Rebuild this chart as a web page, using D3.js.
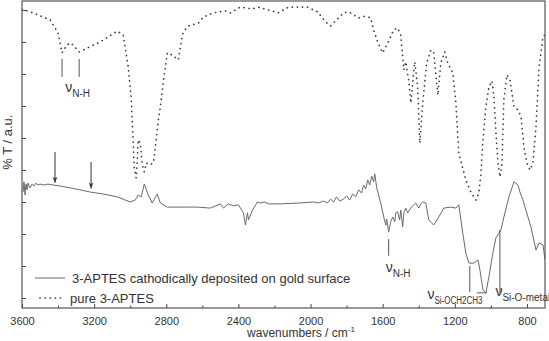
<!DOCTYPE html>
<html>
<head>
<meta charset="utf-8">
<script src="https://cdn.jsdelivr.net/npm/d3@7"></script>
<style>
  body { margin: 0; background: #fff; }
  svg { display: block; font-family: "Liberation Sans", Arial, sans-serif; }
</style>
</head>
<body>
<div id="chart"></div>
<script>
// Spectra: [wavenumber (cm-1), %T (a.u.)]
const pureSpectrum = [
  [3600,90.3],[3539,89.1],[3444,86.9],[3400,82.8],[3378,76.6],[3350,79.1],[3328,79.7],[3283,76.9],
  [3239,78.1],[3167,80.0],[3072,83.4],[3039,82.2],[3011,72.2],[2994,61.9],[2983,48.4],[2978,40.9],
  [2967,37.5],[2961,42.2],[2956,49.4],[2944,48.4],[2939,45.3],[2933,41.6],[2922,39.4],[2911,42.2],
  [2889,41.6],[2872,42.2],[2867,44.1],[2856,49.4],[2844,55.6],[2833,59.7],[2817,67.2],[2794,76.6],
  [2767,75.9],[2733,74.4],[2722,78.4],[2706,83.1],[2678,85.0],[2622,85.9],[2594,87.8],[2539,89.1],
  [2472,89.7],[2444,89.1],[2389,90.9],[2322,90.3],[2294,90.9],[2233,90.0],[2178,89.1],[2122,90.9],
  [2017,90.9],[1961,89.4],[1917,86.3],[1889,85.0],[1817,89.1],[1789,89.4],[1733,87.5],[1694,88.1],
  [1667,87.5],[1650,83.8],[1628,80.0],[1600,76.6],[1572,79.7],[1539,83.8],[1517,84.4],[1500,82.2],
  [1489,75.3],[1483,71.3],[1472,73.8],[1456,68.1],[1444,60.9],[1428,70.6],[1422,73.8],[1406,65.9],
  [1394,48.4],[1378,60.9],[1356,73.4],[1333,77.5],[1317,76.6],[1294,63.4],[1278,73.4],[1256,76.9],
  [1239,73.4],[1211,70.3],[1194,60.9],[1178,45.3],[1161,41.6],[1139,36.9],[1111,33.1],[1083,30.6],
  [1067,32.8],[1056,38.4],[1044,49.4],[1028,59.7],[1011,65.9],[994,67.8],[983,62.8],[972,51.6],
  [961,42.2],[950,37.8],[939,41.6],[928,61.9],[911,69.7],[894,68.1],[872,59.7],[850,58.8],
  [833,56.6],[817,47.2],[800,42.2],[783,40.0],[767,42.2],[750,53.4],[733,72.2],[711,81.6],[700,82.2]
];

const depositedSpectrum = [
  [3594,33.1],[3589,36.3],[3583,32.2],[3578,35.6],[3572,33.8],[3567,35.9],[3556,34.4],[3544,35.6],
  [3533,35.0],[3522,35.9],[3511,35.3],[3500,35.6],[3478,35.3],[3456,35.6],[3428,35.3],[3389,35.0],
  [3333,34.4],[3278,33.8],[3222,33.1],[3150,32.5],[3072,31.6],[3000,30.0],[2972,30.6],[2956,32.2],
  [2939,31.6],[2922,35.6],[2900,32.2],[2878,29.7],[2850,32.5],[2833,29.7],[2794,28.4],[2683,28.4],
  [2628,28.4],[2556,28.1],[2500,29.4],[2483,28.1],[2456,29.4],[2428,28.8],[2400,29.1],[2372,26.6],
  [2361,22.8],[2350,26.6],[2344,24.4],[2322,27.5],[2294,30.0],[2278,29.7],[2256,30.0],[2233,29.4],
  [2167,29.4],[2056,29.7],[1983,30.0],[1956,29.7],[1928,30.3],[1906,29.7],[1889,30.9],[1872,30.0],
  [1856,31.6],[1839,30.3],[1817,30.9],[1800,31.9],[1783,30.6],[1767,32.5],[1750,31.6],[1733,33.8],
  [1717,32.8],[1706,35.3],[1694,34.1],[1683,36.9],[1672,35.3],[1661,38.1],[1650,36.3],[1644,38.8],
  [1633,34.4],[1611,29.7],[1594,25.3],[1583,22.8],[1578,24.7],[1567,20.6],[1556,23.8],[1544,25.3],
  [1533,23.8],[1528,26.6],[1517,26.9],[1506,24.4],[1500,27.5],[1489,22.2],[1483,26.6],[1472,28.1],
  [1461,26.6],[1444,28.1],[1433,28.8],[1417,29.7],[1400,28.1],[1389,29.4],[1378,30.0],[1361,29.7],
  [1344,24.4],[1317,22.8],[1289,25.3],[1261,28.1],[1222,28.4],[1194,28.1],[1178,29.1],[1156,20.3],
  [1139,14.1],[1122,10.9],[1094,10.9],[1072,11.9],[1061,8.8],[1044,2.5],[1028,1.6],[1011,6.6],
  [989,14.1],[972,18.8],[944,21.3],[928,25.3],[900,31.6],[872,36.3],[850,35.3],[839,33.1],
  [822,30.6],[806,27.5],[778,22.2],[750,15.0],[733,17.2],[711,16.6],[700,11.9]
];

const xMajorTicks = [3600, 3200, 2800, 2400, 2000, 1600, 1200, 800];
const xMinorTicks = [3400, 3000, 2600, 2200, 1800, 1400, 1000];
const yTicks = [0, 10, 20, 30, 40, 50, 60, 70, 80, 90];
const seriesNames = ['3-APTES cathodically deposited on gold surface', 'pure 3-APTES'];

// Band assignments: marker lines and label anchor, in data units
const bandLabels = [
  { sub: 'N-H', lines: [[3378, 74.7, 3378, 69.1], [3283, 74.7, 3283, 69.1]], at: [3360, 64.3] },
  { sub: 'N-H', lines: [[1567, 18.4, 1567, 13.2]], at: [1583, 8.1] },
  { sub: 'Si-OCH2CH3', squeeze: 48, lines: [[1117, 10.0, 1117, 1.9], [1078, 1.6, 1022, 1.6]], at: [1352, -0.4] },
  { sub: 'Si-O-metal', lines: [[950, 21.3, 950, 1.6]], at: [975, 0.6] }
];
const arrowMarks = [
  [3417, 45.6, 3417, 36.0],
  [3217, 42.5, 3217, 34.2]
];

// Layout
const W = 549, H = 341;
const margin = { top: 1, right: 4, bottom: 33, left: 22 };
const innerW = W - margin.left - margin.right;
const innerH = H - margin.top - margin.bottom;

const svg = d3.select('#chart').append('svg')
  .attr('width', W)
  .attr('height', H);

const x = d3.scaleLinear().domain([3600, 700]).range([0, innerW]);
const y = d3.scaleLinear().domain([-3.125, 92.8]).range([innerH, 0]);

const chart = svg.append('g')
  .attr('transform', `translate(${margin.left},${margin.top})`);

const defs = svg.append('defs');
defs.append('clipPath').attr('id', 'plot-clip')
  .append('rect').attr('width', innerW).attr('height', innerH);
defs.append('marker')
  .attr('id', 'arrowhead')
  .attr('viewBox', '0 0 10 10')
  .attr('refX', 10).attr('refY', 5)
  .attr('markerWidth', 7).attr('markerHeight', 6)
  .attr('markerUnits', 'userSpaceOnUse')
  .attr('orient', 'auto')
  .append('path')
  .attr('d', 'M0,1 L10,5 L0,9 L3,5 Z')
  .attr('fill', '#333');

const line = d3.line()
  .x(d => x(d[0]))
  .y(d => y(d[1]));

const plot = chart.append('g').attr('clip-path', 'url(#plot-clip)');

plot.append('path')
  .datum(pureSpectrum)
  .attr('d', line)
  .attr('fill', 'none')
  .attr('stroke', '#3a3a3a')
  .attr('stroke-width', 1.7)
  .attr('stroke-linecap', 'round')
  .attr('stroke-dasharray', '0.1,5');

plot.append('path')
  .datum(depositedSpectrum)
  .attr('d', line)
  .attr('fill', 'none')
  .attr('stroke', '#6a6a6a')
  .attr('stroke-width', 1);

// Axes (ticks point inwards)
const xAxis = chart.append('g')
  .attr('class', 'axis')
  .attr('transform', `translate(0,${innerH})`)
  .call(d3.axisBottom(x).tickValues(xMajorTicks).tickSize(-4).tickPadding(9).tickFormat(d3.format('d')));

chart.append('g')
  .attr('transform', `translate(0,${innerH})`)
  .call(d3.axisBottom(x).tickValues(xMinorTicks).tickSize(-2.5).tickFormat(''))
  .call(g => g.select('.domain').remove());

chart.append('g')
  .call(d3.axisLeft(y).tickValues(yTicks).tickSize(-4).tickFormat(''))
  .call(g => g.select('.domain').remove());

xAxis.select('.domain').remove();
chart.selectAll('.tick line').attr('stroke', '#444');
xAxis.selectAll('.tick text')
  .attr('fill', '#333')
  .style('font-size', '11px');

chart.append('rect')
  .attr('width', innerW)
  .attr('height', innerH)
  .attr('fill', 'none')
  .attr('stroke', '#555')
  .attr('stroke-width', 1.2);

// Axis titles
const xTitle = svg.append('text')
  .attr('x', 301)
  .attr('y', 337)
  .attr('text-anchor', 'middle')
  .attr('fill', '#333')
  .style('font-size', '12px');
xTitle.append('tspan').text('wavenumbers / cm');
xTitle.append('tspan').attr('dy', -5).style('font-size', '8px').text('-1');

svg.append('text')
  .attr('transform', `translate(12,${margin.top + y(48.7)}) rotate(-90)`)
  .attr('text-anchor', 'middle')
  .attr('fill', '#333')
  .style('font-size', '13px')
  .text('% T / a.u.');

// Band markers
bandLabels.forEach(b => {
  b.lines.forEach(l => {
    chart.append('line')
      .attr('x1', x(l[0])).attr('y1', y(l[1]))
      .attr('x2', x(l[2])).attr('y2', y(l[3]))
      .attr('stroke', '#555')
      .attr('stroke-width', 1);
  });
  const t = chart.append('text')
    .attr('x', x(b.at[0]))
    .attr('y', y(b.at[1]))
    .attr('fill', '#333');
  t.append('tspan').style('font-size', '14px').text('ν');
  const s = t.append('tspan').attr('dy', 5).style('font-size', '10px').text(b.sub);
  if (b.squeeze) s.attr('textLength', b.squeeze).attr('lengthAdjust', 'spacingAndGlyphs');
});

arrowMarks.forEach(a => {
  chart.append('line')
    .attr('x1', x(a[0])).attr('y1', y(a[1]))
    .attr('x2', x(a[2])).attr('y2', y(a[3]))
    .attr('stroke', '#333')
    .attr('stroke-width', 1)
    .attr('marker-end', 'url(#arrowhead)');
});

// Legend
const legend = svg.append('g').attr('transform', 'translate(35,278)');
const legendItems = legend.selectAll('.legend-item')
  .data(seriesNames)
  .join('g')
  .attr('class', 'legend-item')
  .attr('transform', (d, i) => `translate(0,${i * 20})`);

legendItems.append('line')
  .attr('x1', (d, i) => i === 0 ? 0 : 5)
  .attr('x2', 30)
  .attr('stroke', (d, i) => i === 0 ? '#6a6a6a' : '#3a3a3a')
  .attr('stroke-width', (d, i) => i === 0 ? 1 : 1.7)
  .attr('stroke-linecap', (d, i) => i === 0 ? 'butt' : 'round')
  .attr('stroke-dasharray', (d, i) => i === 0 ? null : '0.1,5');

legendItems.append('text')
  .attr('x', (d, i) => i === 0 ? 37 : 35)
  .attr('y', 5)
  .attr('fill', '#333')
  .style('font-size', '13px')
  .text(d => d);
</script>
</body>
</html>
